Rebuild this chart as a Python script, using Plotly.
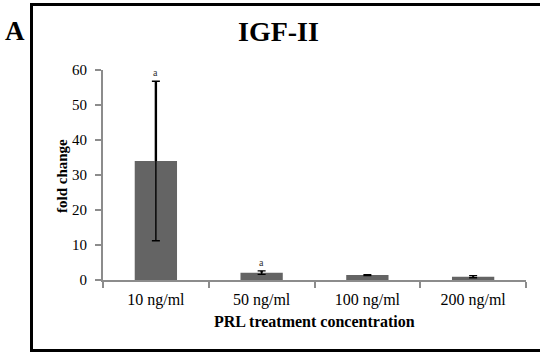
import plotly.graph_objects as go

categories = ["10 ng/ml", "50 ng/ml", "100 ng/ml", "200 ng/ml"]
fold_change = [34.0, 2.1, 1.4, 0.95]
error = [22.8, 0.5, 0.1, 0.3]
sig_labels = ["a", "a", "", ""]
y_ticks = [0, 10, 20, 30, 40, 50, 60]

W, H = 540, 352
L, R, T, B = 103, 526, 70, 280

def px(x):
    return (x - L) / (R - L)

def py(y):
    return (B - y) / (B - T)

SERIF = "Liberation Serif, Times New Roman, serif"

fig = go.Figure()
fig.add_trace(go.Bar(
    x=categories, y=fold_change, width=0.4,
    marker=dict(color="#646464", line=dict(width=0)),
    error_y=dict(type="data", array=error, visible=True,
                 color="black", thickness=1.4, width=4),
))
fig.add_trace(go.Scatter(
    x=categories, y=fold_change, mode="markers",
    marker=dict(size=1, opacity=0), hoverinfo="skip",
    error_y=dict(type="data", array=error, arrayminus=[0] * len(error),
                 visible=True, color="black", thickness=2.4, width=0),
))

annotations = []
for c, v, e, s in zip(categories, fold_change, error, sig_labels):
    if s:
        annotations.append(dict(x=c, y=v + e, xref="x", yref="y", text=s,
                                showarrow=False, xanchor="center", yanchor="bottom",
                                yshift=1, font=dict(family=SERIF, size=10, color="#333")))

annotations += [
    dict(x=px(278), y=py(32), xref="paper", yref="paper", text="<b>IGF-II</b>",
         xanchor="center", yanchor="middle",
         showarrow=False, font=dict(family=SERIF, size=28, color="black")),
    dict(x=px(15), y=py(31), xref="paper", yref="paper", text="<b>A</b>",
         xanchor="center", yanchor="middle",
         showarrow=False, font=dict(family=SERIF, size=27, color="black")),
    dict(x=px(62), y=py(176), xref="paper", yref="paper", text="<b>fold change</b>",
         xanchor="center", yanchor="middle",
         textangle=-90, showarrow=False, font=dict(family=SERIF, size=15, color="black")),
    dict(x=px(314), y=py(321), xref="paper", yref="paper",
         text="<b>PRL treatment concentration</b>",
         xanchor="center", yanchor="middle",
         showarrow=False, font=dict(family=SERIF, size=16, color="black")),
]

shapes = [
    dict(type="line", xref="paper", yref="paper", x0=px(31.5), x1=px(31.5),
         y0=py(3), y1=py(352), line=dict(color="black", width=3)),
    dict(type="line", xref="paper", yref="paper", x0=px(30), x1=px(541),
         y0=py(4.5), y1=py(4.5), line=dict(color="black", width=3)),
    dict(type="line", xref="paper", yref="paper", x0=px(30), x1=px(541),
         y0=py(350.5), y1=py(350.5), line=dict(color="black", width=3)),
    dict(type="line", xref="paper", yref="paper", x0=0, x1=0,
         y0=0, y1=py(287), line=dict(color="#8c8c8c", width=2)),
]

fig.update_layout(
    width=W, height=H,
    margin=dict(l=L, r=W - R, t=T, b=H - B),
    paper_bgcolor="white", plot_bgcolor="white",
    showlegend=False,
    annotations=annotations, shapes=shapes,
    xaxis=dict(range=[-0.5, 3.5], tickson="boundaries", ticks="outside",
               ticklen=6, tickcolor="#8c8c8c", tickwidth=2,
               showline=True, linecolor="#8c8c8c", linewidth=2,
               showgrid=False, zeroline=False, ticklabelstandoff=4,
               tickfont=dict(family=SERIF, size=16, color="black")),
    yaxis=dict(range=[0, 60], tickvals=y_ticks, ticks="outside",
               ticklen=6, tickcolor="#8c8c8c", tickwidth=2,
               showline=True, linecolor="#8c8c8c", linewidth=2,
               showgrid=False, zeroline=False, ticklabelstandoff=5,
               tickfont=dict(family=SERIF, size=15, color="black")),
)

fig.write_html("out.html")
